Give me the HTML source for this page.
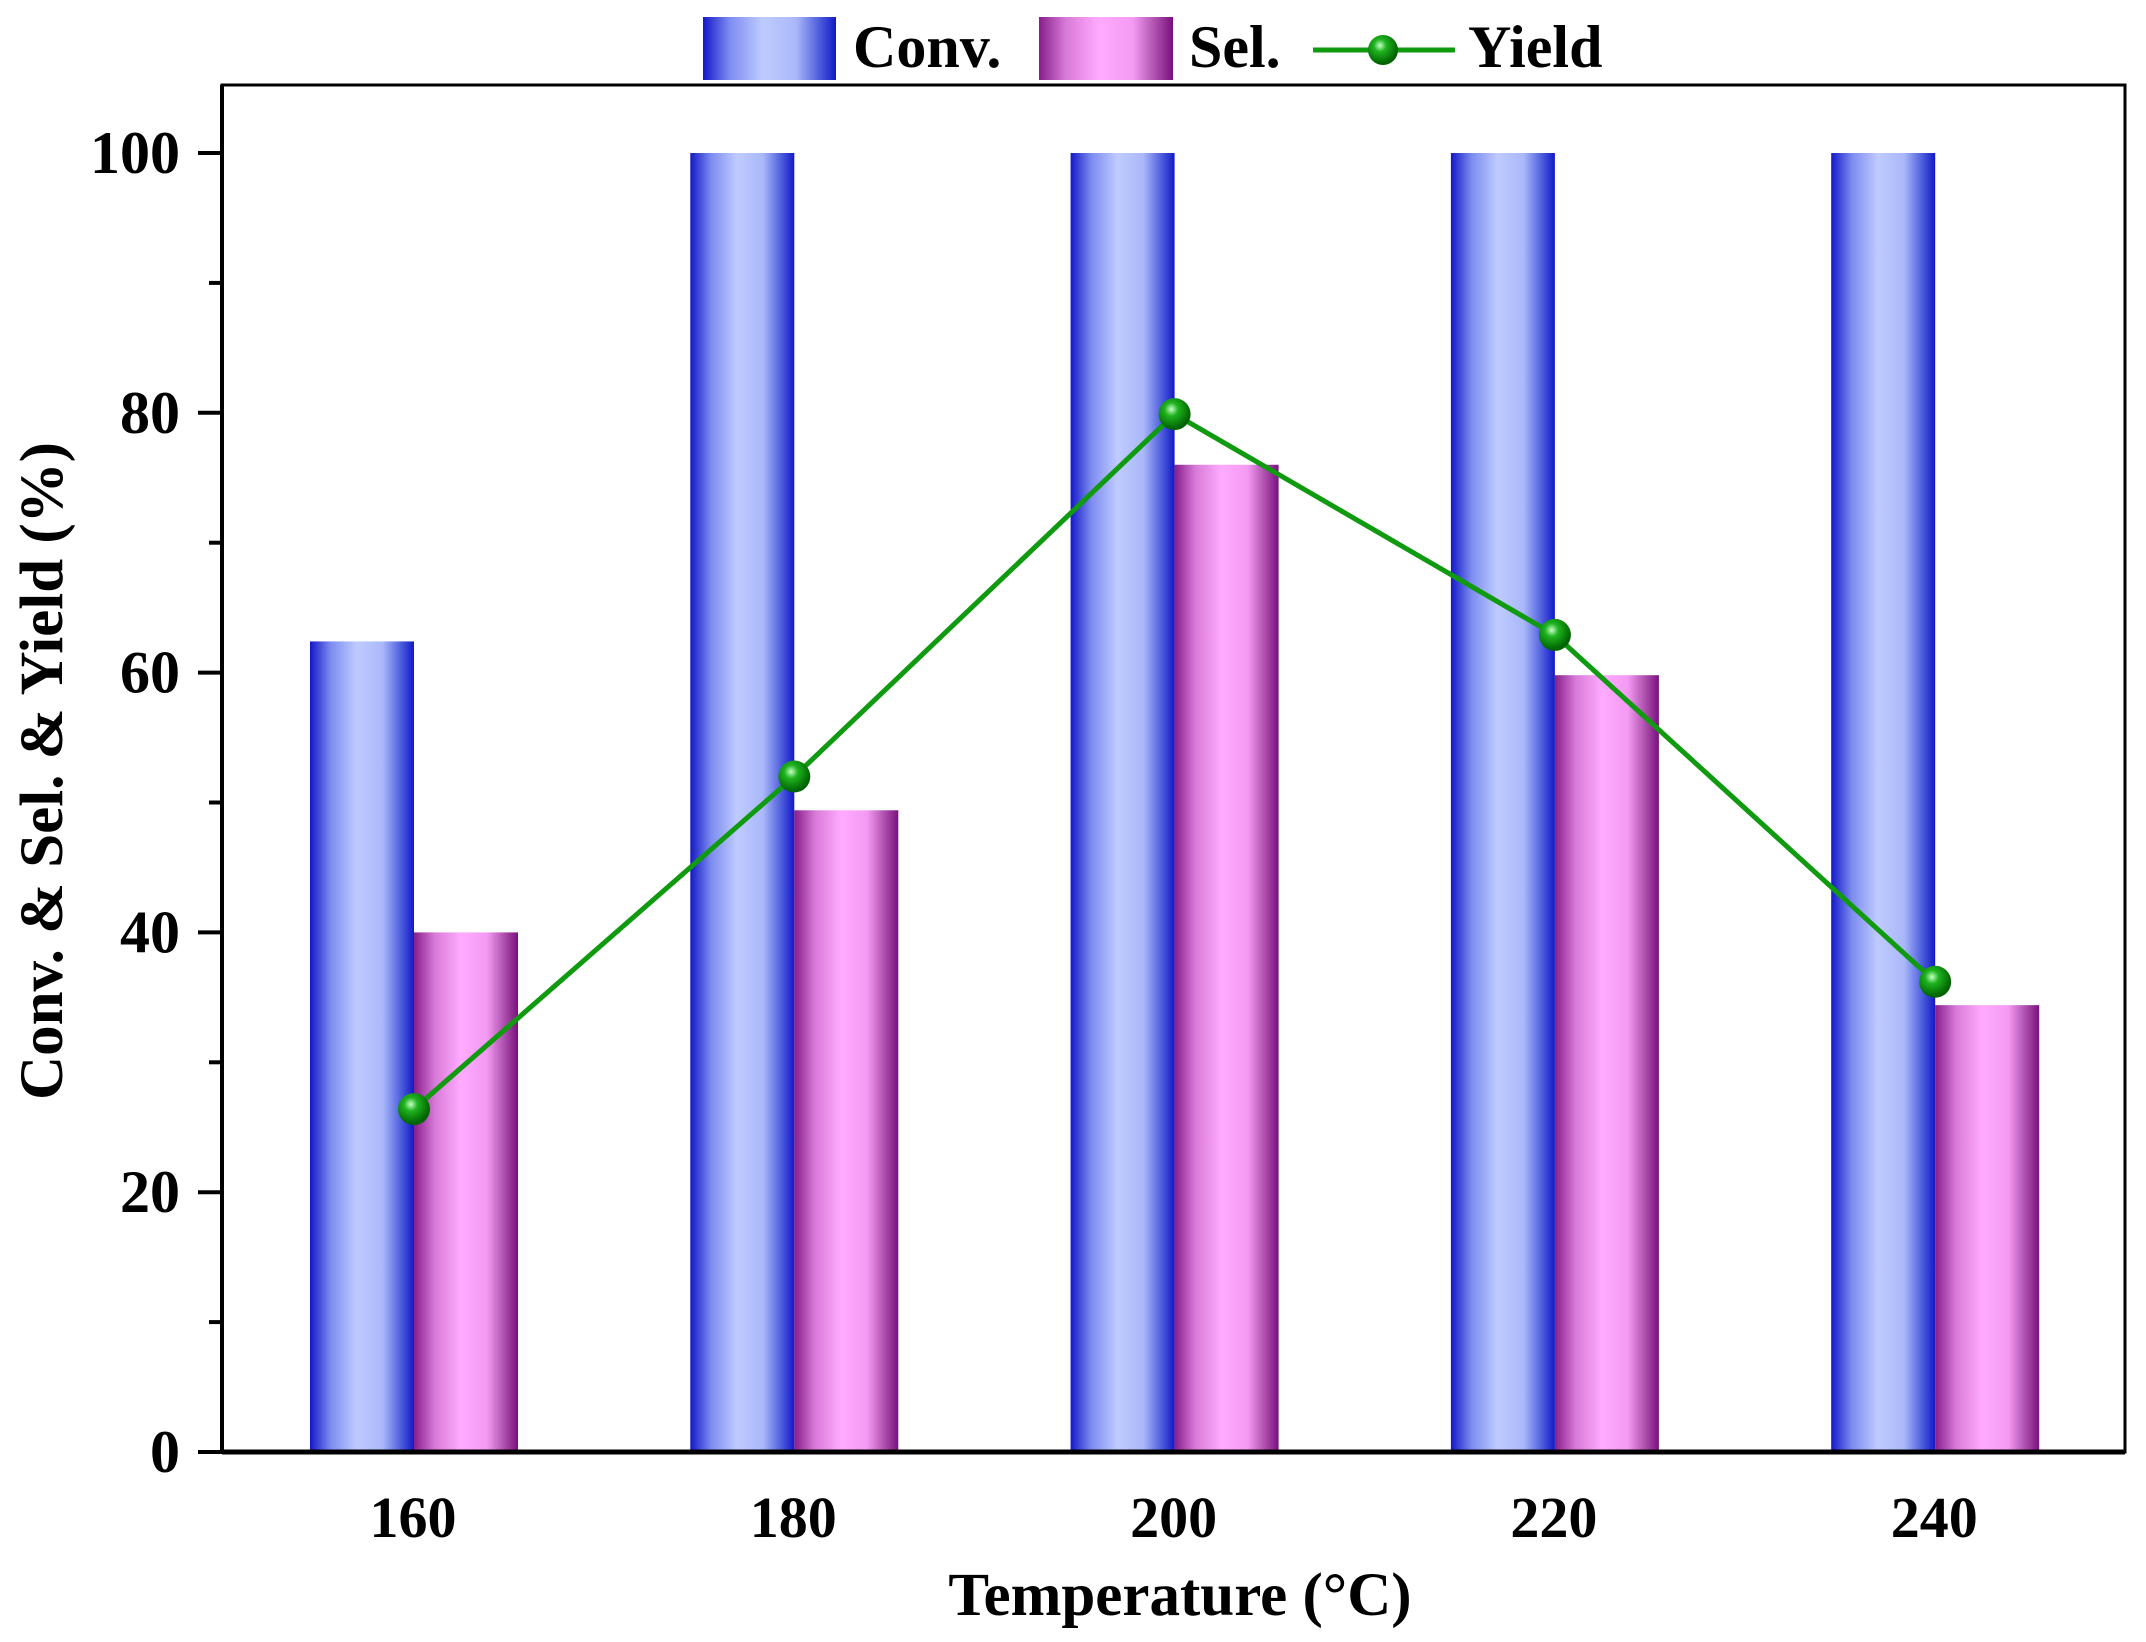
<!DOCTYPE html>
<html><head><meta charset="utf-8"><style>
html,body{margin:0;padding:0;background:#fff;}
svg text{font-family:"Liberation Serif",serif;font-weight:bold;fill:#000;}
</style></head><body>
<svg id="chart" width="2146" height="1637" xmlns="http://www.w3.org/2000/svg">
<defs>
<linearGradient id="gConv" x1="0" x2="1" y1="0" y2="0">
<stop offset="0" stop-color="#1418c8"/><stop offset="0.2" stop-color="#7d8cf0"/><stop offset="0.45" stop-color="#bfcbff"/><stop offset="0.7" stop-color="#aab8fa"/><stop offset="0.9" stop-color="#4050d8"/><stop offset="1" stop-color="#1418c8"/>
</linearGradient>
<linearGradient id="gSel" x1="0" x2="1" y1="0" y2="0">
<stop offset="0" stop-color="#861e8c"/><stop offset="0.2" stop-color="#d87ad8"/><stop offset="0.45" stop-color="#ffaaff"/><stop offset="0.7" stop-color="#f49af4"/><stop offset="0.9" stop-color="#a040a0"/><stop offset="1" stop-color="#7a1080"/>
</linearGradient>
<radialGradient id="gDot" cx="0.4" cy="0.35" r="0.6">
<stop offset="0" stop-color="#c8ffc8"/><stop offset="0.35" stop-color="#1fb31f"/><stop offset="1" stop-color="#006400"/>
</radialGradient>
</defs>
<g id="plot"></g>
<g id="legend">
<rect x="703" y="17" width="133" height="63" fill="url(#gConv)"/>
<text x="853" y="67" font-size="60">Conv.</text>
<rect x="1039" y="17" width="134" height="63" fill="url(#gSel)"/>
<text x="1189" y="67" font-size="60">Sel.</text>
<line x1="1313" y1="50" x2="1455" y2="50" stroke="#109a10" stroke-width="5"/>
<circle cx="1383" cy="50" r="15" fill="url(#gDot)"/>
<text x="1468" y="67" font-size="60">Yield</text>
</g>
<text font-size="61" text-anchor="middle" transform="translate(62,771) rotate(-90)">Conv. &amp; Sel. &amp; Yield (%)</text>
<text font-size="61" text-anchor="middle" x="1180" y="1615">Temperature (°C)</text>
</svg>
<script>
const categories = ["160","180","200","220","240"];
const convValues = [62.4,100,100,100,100];
const selValues = [40,49.4,76,59.8,34.4];
const yieldValues = [26.4,52,79.9,62.9,36.2];
const yTicks = [0,20,40,60,80,100];
const yMinorTicks = [10,30,50,70,90];

const L=222,R=2125,T=85,B=1452;
const y100=153;
function yScale(v){return B-(B-y100)*v/100;}
function xCenter(i){return 414+i*380.3;}
const bw=104;
const NS="http://www.w3.org/2000/svg";
const plot=document.getElementById('plot');
function mk(tag,attrs,parent){const e=document.createElementNS(NS,tag);for(const k in attrs)e.setAttribute(k,attrs[k]);(parent||plot).appendChild(e);return e;}

categories.forEach((c,i)=>{
  const cx=xCenter(i);
  const b1=mk('rect',{x:cx-bw,y:yScale(convValues[i]),width:bw,height:B-yScale(convValues[i]),fill:'url(#gConv)'});
  
  
  const b2=mk('rect',{x:cx,y:yScale(selValues[i]),width:bw,height:B-yScale(selValues[i]),fill:'url(#gSel)'});
  
  
  const t=mk('text',{x:cx-1,y:1537,'font-size':58,'text-anchor':'middle'});
  t.textContent=c;
  
  
});
const pts=yieldValues.map((v,i)=>xCenter(i)+','+yScale(v)).join(' ');
const line=mk('polyline',{points:pts,fill:'none',stroke:'#109a10','stroke-width':5});


yieldValues.forEach((v,i)=>{
  const c=mk('circle',{cx:xCenter(i),cy:yScale(v),r:16,fill:'url(#gDot)'});
  
  
});
const frame=mk('rect',{x:L,y:T,width:R-L,height:B-T,fill:'none',stroke:'#000','stroke-width':3});


const xa=mk('line',{x1:L,y1:B,x2:R,y2:B,stroke:'#000','stroke-width':5});


const ya=mk('line',{x1:L,y1:T,x2:L,y2:B,stroke:'#000','stroke-width':4});


yTicks.forEach(v=>{
  const tk=mk('line',{x1:L-24,y1:yScale(v),x2:L,y2:yScale(v),stroke:'#000','stroke-width':4});
  
  
  const t=mk('text',{x:180,y:yScale(v)+20,'font-size':60,'text-anchor':'end'});
  t.textContent=v;
  
  
});
yMinorTicks.forEach(v=>{
  const tk=mk('line',{x1:L-13,y1:yScale(v),x2:L,y2:yScale(v),stroke:'#000','stroke-width':4});
  
  
});
</script>
</body></html>
